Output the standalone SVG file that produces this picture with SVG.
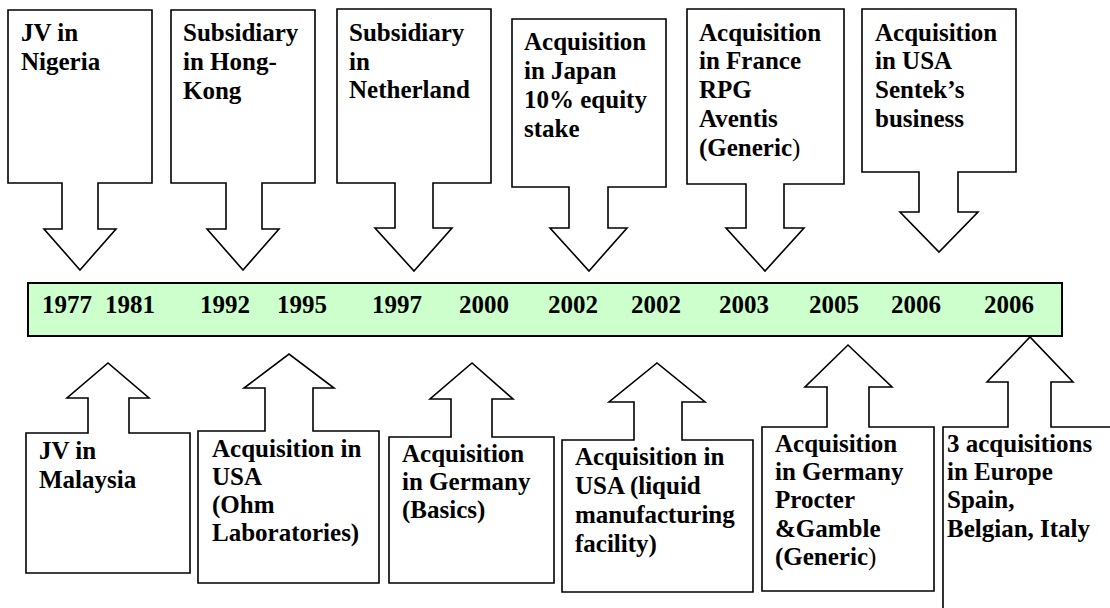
<svg xmlns="http://www.w3.org/2000/svg" width="1110" height="608" viewBox="0 0 1110 608">
<style>
.c{fill:#fff;stroke:#000;stroke-width:1.6;stroke-linejoin:miter}
.t{font-family:"Liberation Serif","Times New Roman",serif;font-weight:bold;font-size:25px;fill:#000}
.n{font-weight:normal}
.bar{fill:#CCFFCC;stroke:#000;stroke-width:2}
</style>
<rect width="1110" height="608" fill="#fff"/>
<g id="timeline">
<rect class="bar" x="28" y="283" width="1034" height="53"/>
<g class="t">
<text x="42" y="313">1977</text>
<text x="105" y="313">1981</text>
<text x="200" y="313">1992</text>
<text x="277" y="313">1995</text>
<text x="372" y="313">1997</text>
<text x="459" y="313">2000</text>
<text x="548" y="313">2002</text>
<text x="631" y="313">2002</text>
<text x="719" y="313">2003</text>
<text x="809" y="313">2005</text>
<text x="891" y="313">2006</text>
<text x="984" y="313">2006</text>
</g>
</g>
<g id="top-nigeria">
<path class="c" d="M8,10 H152 V183 H98 V229 H116 L80,270 L44,229 H62 V183 H8 Z"/>
<text class="t" x="21" y="41">JV in</text>
<text class="t" x="21" y="70">Nigeria</text>
</g>
<g id="top-hongkong">
<path class="c" d="M171,10 H315 V183 H262 V229 H279 L243,270 L207,229 H226 V183 H171 Z"/>
<text class="t" x="183" y="41">Subsidiary</text>
<text class="t" x="183" y="70">in Hong-</text>
<text class="t" x="183" y="99">Kong</text>
</g>
<g id="top-netherland">
<path class="c" d="M337,9 H491 V183 H433 V228 H452 L414,271 L375,228 H395 V183 H337 Z"/>
<text class="t" x="349" y="41">Subsidiary</text>
<text class="t" x="349" y="70">in</text>
<text class="t" x="349" y="98">Netherland</text>
</g>
<g id="top-japan">
<path class="c" d="M512,19 H666 V187 H608 V228 H627 L589,271 L550,228 H569 V187 H512 Z"/>
<text class="t" x="524" y="50">Acquisition</text>
<text class="t" x="524" y="79">in Japan</text>
<text class="t" x="524" y="108">10% equity</text>
<text class="t" x="524" y="137">stake</text>
</g>
<g id="top-france">
<path class="c" d="M687,9 H844 V184 H784 V228 H804 L765,271 L726,228 H746 V184 H687 Z"/>
<text class="t" x="699" y="41">Acquisition</text>
<text class="t" x="699" y="69">in France</text>
<text class="t" x="699" y="98">RPG</text>
<text class="t" x="699" y="127">Aventis</text>
<text class="t" x="699" y="156">(Generic<tspan class="n">)</tspan></text>
</g>
<g id="top-usa-sentek">
<path class="c" d="M862,9 H1016 V172 H958 V212 H978 L939,252 L900,212 H919 V172 H862 Z"/>
<text class="t" x="875" y="41">Acquisition</text>
<text class="t" x="875" y="69">in USA</text>
<text class="t" x="875" y="98">Sentek’s</text>
<text class="t" x="875" y="127">business</text>
</g>
<g id="bottom-malaysia">
<path class="c" d="M26,433 H88 V398 H67 L108,363 L149,398 H129 V433 H190 V573 H26 Z"/>
<text class="t" x="39" y="459">JV in</text>
<text class="t" x="39" y="488">Malaysia</text>
</g>
<g id="bottom-ohm">
<path class="c" d="M198,431 H265 V388 H244 L289,354 L334,388 H313 V431 H379 V583 H198 Z"/>
<text class="t" x="212" y="457">Acquisition in</text>
<text class="t" x="212" y="485">USA</text>
<text class="t" x="212" y="513">(Ohm</text>
<text class="t" x="212" y="541">Laboratories)</text>
</g>
<g id="bottom-basics">
<path class="c" d="M389,437 H451 V399 H430 L472,363 L513,399 H492 V437 H554 V583 H389 Z"/>
<text class="t" x="402" y="462">Acquisition</text>
<text class="t" x="402" y="490">in Germany</text>
<text class="t" x="402" y="518">(Basics)</text>
</g>
<g id="bottom-liquid">
<path class="c" d="M562,440 H634 V402 H609 L657,363 L705,402 H682 V440 H753 V592 H562 Z"/>
<text class="t" x="575" y="465">Acquisition in</text>
<text class="t" x="575" y="494">USA (liquid</text>
<text class="t" x="575" y="523">manufacturing</text>
<text class="t" x="575" y="552">facility)</text>
</g>
<g id="bottom-pg">
<path class="c" d="M762,427 H827 V387 H805 L848,345 L892,387 H869 V427 H934 V591 H762 Z"/>
<text class="t" x="775" y="452">Acquisition</text>
<text class="t" x="775" y="480">in Germany</text>
<text class="t" x="775" y="508">Procter</text>
<text class="t" x="775" y="537">&amp;Gamble</text>
<text class="t" x="775" y="565">(Generic<tspan class="n">)</tspan></text>
</g>
<g id="bottom-europe">
<path class="c" d="M943,610 V427 H1008 V382 H987 L1030,337 L1073,382 H1051 V427 H1112"/>
<text class="t" x="947" y="452">3 acquisitions</text>
<text class="t" x="947" y="480">in Europe</text>
<text class="t" x="947" y="508">Spain,</text>
<text class="t" x="947" y="537">Belgian, Italy</text>
</g>
</svg>
